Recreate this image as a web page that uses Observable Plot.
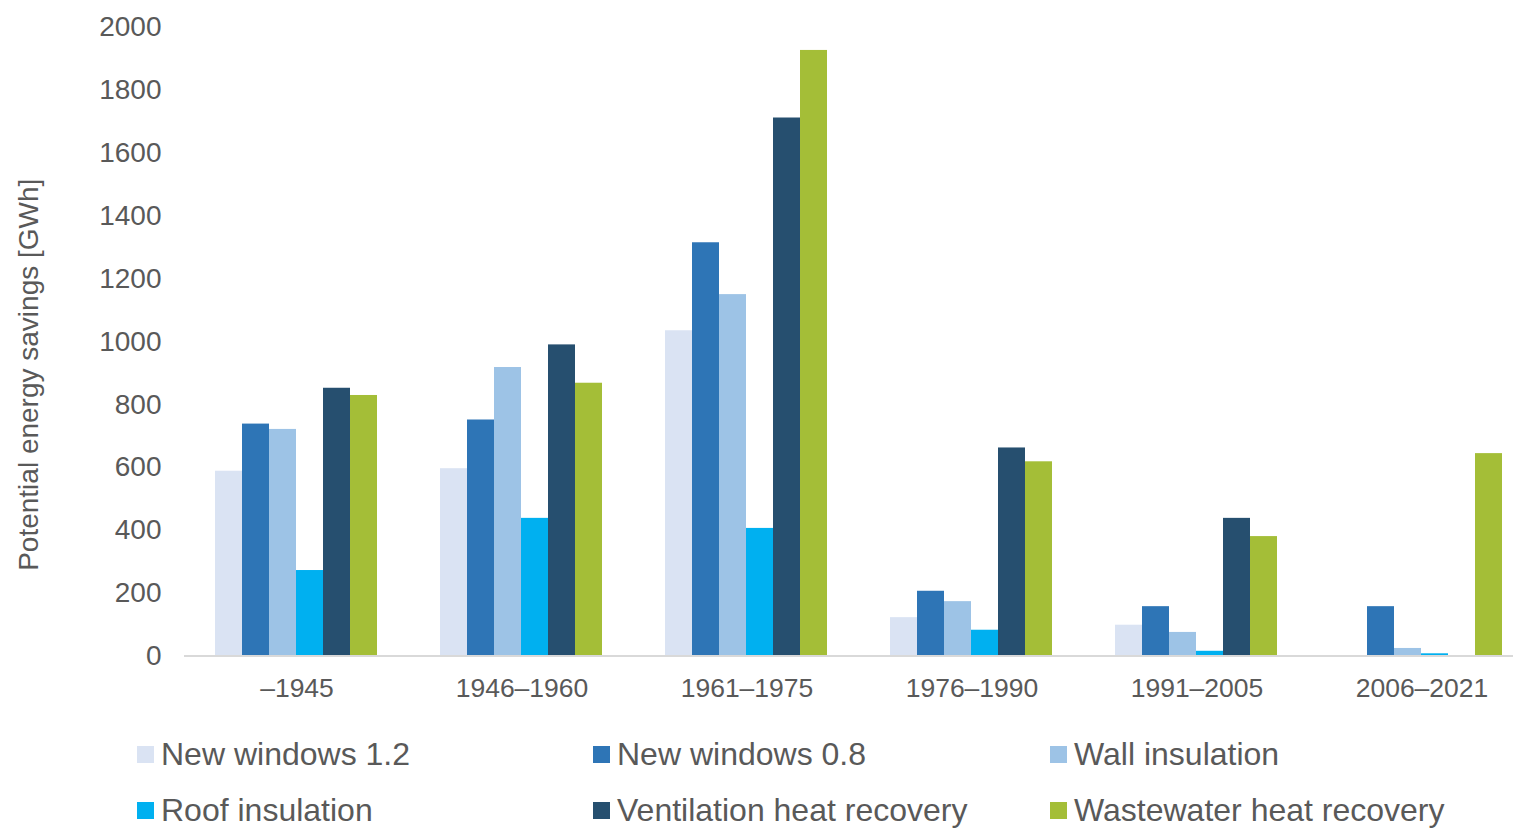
<!DOCTYPE html>
<html>
<head>
<meta charset="utf-8">
<script src="https://cdn.jsdelivr.net/npm/d3@7"></script>
<script src="https://cdn.jsdelivr.net/npm/@observablehq/plot@0.6"></script>
<style>
  html, body { margin: 0; padding: 0; background: #fff; overflow: hidden; }
  #wrap { width: 1513px; height: 828px; overflow: hidden; position: relative; }
  #chart { width: 1540px; height: 720px; }
  #chart svg { max-width: none !important; width: 1540px; height: 720px; display: block; }
  #legend { position: absolute; left: 0; top: 720px; width: 1513px; height: 108px;
            font-family: "Liberation Sans", Arial, sans-serif; color: #595959; }
  .item { position: absolute; white-space: nowrap; font-size: 32px; line-height: 32px; }
  .sw { position: absolute; left: 0; width: 17px; height: 17px; }
  .lab { position: absolute; left: 24px; top: 0; }
</style>
</head>
<body>
<div id="wrap"><div id="chart"></div><div id="legend"></div></div>
<script>
const periods = ["–1945", "1946–1960", "1961–1975", "1976–1990", "1991–2005", "2006–2021"];
const series = ["New windows 1.2", "New windows 0.8", "Wall insulation", "Roof insulation", "Ventilation heat recovery", "Wastewater heat recovery"];
const colors = ["#dae3f3", "#2e75b6", "#9dc3e6", "#00b0f0", "#264f6f", "#a4be37"];
const newWindows12 = [588, 596, 1035, 122, 98, 0];
const newWindows08 = [738, 751, 1315, 206, 157, 157];
const wallInsulation = [721, 918, 1150, 173, 75, 24];
const roofInsulation = [272, 438, 406, 82, 15, 7];
const ventilationHeatRecovery = [852, 990, 1712, 662, 438, 0];
const wastewaterHeatRecovery = [829, 868, 1927, 618, 380, 644];
const yTicks = [0, 200, 400, 600, 800, 1000, 1200, 1400, 1600, 1800, 2000];

const valueArrays = [newWindows12, newWindows08, wallInsulation, roofInsulation, ventilationHeatRecovery, wastewaterHeatRecovery];
const data = [];
periods.forEach((p, i) => {
  series.forEach((s, j) => {
    data.push({period: p, series: s, value: valueArrays[j][i]});
  });
});

const font = "Liberation Sans, Arial, sans-serif";
const chart = Plot.plot({
  width: 1540,
  height: 720,
  marginLeft: 183,
  marginRight: 6,
  marginTop: 27,
  marginBottom: 64.5,
  facet: {marginTop: 0, marginRight: 0, marginBottom: 0, marginLeft: 0},
  style: {fontFamily: font, color: "#595959", background: "#fff", maxWidth: "none"},
  fx: {domain: periods, padding: 0, label: null},
  x: {domain: series, padding: 0, insetLeft: 29, insetRight: 30, axis: null},
  y: {domain: [0, 2000], label: null},
  color: {domain: series, range: colors},
  marks: [
    Plot.barY(data, {fx: "period", x: "series", y: "value", fill: "series", insetLeft: 0, insetRight: 0}),
    Plot.ruleY([0], {stroke: "#d9d9d9", strokeWidth: 2}),
    Plot.axisFx({anchor: "bottom", tickSize: 0, tickPadding: 22, fontSize: 26.5, fill: "#595959", label: null}),
    Plot.axisY({ticks: yTicks, tickFormat: d3.format("d"), tickSize: 0, tickPadding: 23, fontSize: 28, fill: "#595959",
      label: "Potential energy savings [GWh]", labelAnchor: "center", labelArrow: "none", labelOffset: 166})
  ]
});
document.getElementById("chart").appendChild(chart);

// y-axis title: slightly larger and shifted down as in the reference
chart.querySelectorAll("g[aria-label='y-axis label'] text").forEach(t => {
  t.setAttribute("font-size", "28");
  t.setAttribute("dx", "-33");
});

const legend = document.getElementById("legend");
const colX = [137, 593, 1050];
series.forEach((s, i) => {
  const row = Math.floor(i / 3), col = i % 3;
  const item = document.createElement("div");
  item.className = "item";
  item.style.left = colX[col] + "px";
  item.style.top = (18 + row * 56) + "px";
  const sw = document.createElement("div");
  sw.className = "sw";
  sw.style.background = colors[i];
  sw.style.top = "8px";
  const lab = document.createElement("div");
  lab.className = "lab";
  lab.textContent = s;
  item.appendChild(sw);
  item.appendChild(lab);
  legend.appendChild(item);
});
</script>
</body>
</html>
